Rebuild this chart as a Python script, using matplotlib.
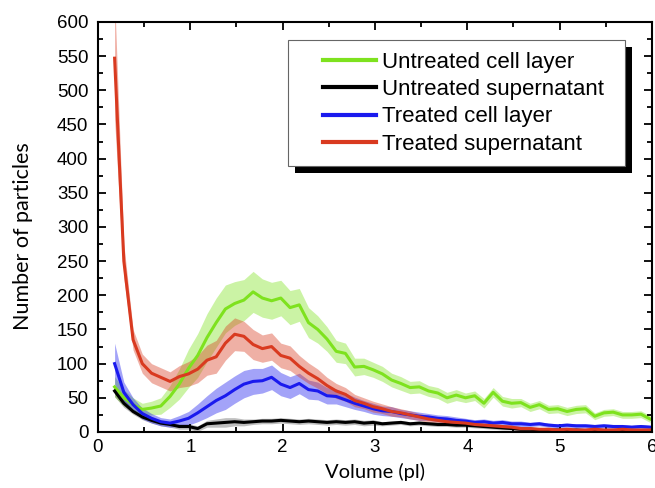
import matplotlib

matplotlib.use("Agg")
import matplotlib.pyplot as plt  # noqa: E402
import numpy as np  # noqa: E402
from matplotlib.patches import Rectangle  # noqa: E402

# volume bins (pl)
VOLUME = [0.18, 0.28, 0.38, 0.48, 0.58, 0.68, 0.78, 0.88, 0.98, 1.08,
          1.18, 1.28, 1.38, 1.48, 1.58, 1.68, 1.78, 1.88, 1.98, 2.08,
          2.18, 2.28, 2.38, 2.48, 2.58, 2.68, 2.78, 2.88, 2.98, 3.08,
          3.18, 3.28, 3.38, 3.48, 3.58, 3.68, 3.78, 3.88, 3.98, 4.08,
          4.18, 4.28, 4.38, 4.48, 4.58, 4.68, 4.78, 4.88, 4.98, 5.08,
          5.18, 5.28, 5.38, 5.48, 5.58, 5.68, 5.78, 5.88, 5.98]

UNTREATED_CELL = [66, 50, 40, 33, 35, 38, 52, 70, 93, 112,
                  138, 160, 180, 188, 193, 205, 196, 192, 196, 182,
                  186, 160, 150, 136, 118, 115, 95, 96, 91, 85,
                  76, 71, 65, 66, 60, 57, 50, 54, 50, 53,
                  42, 58, 45, 42, 43, 36, 40, 33, 34, 30,
                  33, 34, 23, 28, 29, 25, 25, 26, 19]
UNTREATED_CELL_ERR = [15, 12, 10, 9, 10, 12, 16, 22, 28, 32,
                      35, 36, 35, 32, 30, 30, 28, 27, 26, 25,
                      24, 22, 20, 18, 16, 15, 13, 12, 11, 11,
                      10, 10, 9, 9, 8, 8, 8, 8, 7, 7,
                      7, 7, 7, 7, 6, 6, 6, 6, 6, 6,
                      6, 6, 5, 5, 5, 5, 5, 5, 5]

UNTREATED_SUP = [60, 42, 30, 22, 17, 13, 11, 8, 8, 5,
                 12, 13, 14, 15, 14, 15, 16, 16, 17, 16,
                 15, 16, 15, 14, 15, 14, 15, 13, 14, 12,
                 13, 14, 12, 13, 12, 11, 11, 10, 10, 9,
                 8, 7, 6, 5, 4, 4, 3, 3, 3, 2,
                 3, 2, 2, 2, 2, 2, 2, 2, 2]
UNTREATED_SUP_ERR = [8, 6, 4, 4, 4, 4, 4, 4, 4, 4,
                     5, 6, 7, 6, 5, 4, 4, 4, 4, 4,
                     4, 4, 4, 4, 4, 4, 4, 4, 4, 3,
                     3, 3, 3, 3, 3, 3, 3, 3, 3, 3,
                     3, 3, 3, 2, 2, 2, 2, 2, 2, 2,
                     2, 2, 2, 2, 2, 2, 2, 2, 2]

TREATED_CELL = [100, 58, 40, 27, 20, 15, 13, 16, 20, 28,
                37, 46, 53, 62, 70, 74, 75, 80, 70, 65,
                71, 62, 60, 53, 52, 47, 42, 38, 34, 31,
                30, 27, 25, 23, 22, 20, 19, 17, 16, 14,
                15, 13, 14, 12, 12, 11, 12, 10, 9, 10,
                9, 9, 8, 9, 8, 8, 7, 8, 7]
TREATED_CELL_ERR = [30, 15, 10, 8, 7, 6, 6, 8, 10, 13,
                    16, 18, 20, 20, 20, 19, 18, 18, 17, 16,
                    15, 14, 13, 12, 11, 10, 9, 8, 8, 7,
                    7, 6, 6, 6, 5, 5, 5, 5, 4, 4,
                    4, 4, 4, 4, 4, 3, 3, 3, 3, 3,
                    3, 3, 3, 3, 3, 3, 3, 3, 3]

TREATED_SUP = [547, 250, 135, 100, 86, 80, 74, 81, 85, 92,
               105, 110, 130, 143, 140, 128, 122, 125, 112, 108,
               96, 86, 78, 68, 60, 55, 46, 42, 37, 34,
               30, 28, 25, 22, 19, 17, 15, 14, 13, 11,
               10, 9, 8, 7, 5, 5, 4, 4, 3, 4,
               3, 3, 4, 3, 3, 4, 3, 3, 3]
TREATED_SUP_ERR = [90, 25, 15, 14, 14, 14, 14, 16, 18, 20,
                   22, 24, 25, 24, 22, 22, 20, 20, 18, 18,
                   16, 15, 14, 12, 11, 10, 9, 8, 8, 7,
                   7, 6, 6, 5, 5, 5, 4, 4, 4, 3,
                   3, 3, 3, 3, 3, 3, 2, 2, 2, 2,
                   2, 2, 2, 2, 2, 2, 2, 2, 2]

SERIES = [
    ("Untreated cell layer", UNTREATED_CELL, UNTREATED_CELL_ERR, "#7EE21E"),
    ("Untreated supernatant", UNTREATED_SUP, UNTREATED_SUP_ERR, "#000000"),
    ("Treated cell layer", TREATED_CELL, TREATED_CELL_ERR, "#1A1AEE"),
    ("Treated supernatant", TREATED_SUP, TREATED_SUP_ERR, "#D93A20"),
]

plt.rcParams["font.family"] = ["Liberation Sans", "DejaVu Sans"]
plt.rcParams["xtick.labelsize"] = 13.5
plt.rcParams["ytick.labelsize"] = 13.5
LABEL_FONT = ["Lato", "DejaVu Sans"]

fig = plt.figure(figsize=(6.55, 4.88), dpi=100)
ax = fig.add_axes([0.1496, 0.1148, 0.8458, 0.8402])

x = np.array(VOLUME)
for label, mean, err, color in SERIES:
    m = np.array(mean, dtype=float)
    e = np.array(err, dtype=float)
    band_alpha = 0.25 if color == "#000000" else 0.4
    ax.fill_between(x, m - e, m + e, color=color, alpha=band_alpha, lw=0)
    ax.plot(x, m, color=color, lw=2.2, label=label)

ax.set_xlim(0, 6)
ax.set_ylim(0, 600)
ax.set_xticks(np.arange(0, 7, 1))
ax.set_xticks(np.arange(0, 6.01, 0.5), minor=True)
ax.set_yticks(np.arange(0, 601, 50))
ax.set_yticks(np.arange(0, 601, 25), minor=True)
ax.tick_params(which="both", direction="in", top=True, right=True, width=1.3)
ax.tick_params(which="major", length=6)
ax.tick_params(axis="y", which="major", pad=7)
ax.tick_params(axis="x", which="major", pad=5)
ax.tick_params(which="minor", length=3.5)
for sp in ax.spines.values():
    sp.set_linewidth(1.5)

ax.set_xlabel("Volume (pl)", family=LABEL_FONT, fontsize=14.5, labelpad=5)
ax.set_ylabel("Number of particles", family=LABEL_FONT, fontsize=15.5)
ax.yaxis.set_label_coords(-0.117, 0.478)

# legend box with a hard black drop shadow
box_x0, box_y0, box_w, box_h = 0.343, 0.649, 0.608, 0.307
ax.add_patch(Rectangle((box_x0 + 0.013, box_y0 - 0.017), box_w, box_h,
                       transform=ax.transAxes, facecolor="black",
                       edgecolor="none", zorder=4))
ax.add_patch(Rectangle((box_x0, box_y0), box_w, box_h, transform=ax.transAxes,
                       facecolor="white", edgecolor="#666666", lw=0.8, zorder=4.5))
leg = ax.legend(loc="upper left", bbox_to_anchor=(0.406, 0.927), frameon=False,
                borderpad=0, borderaxespad=0, handlelength=2.4, handletextpad=0.25,
                labelspacing=0.28, prop={"size": 16})
leg.set_zorder(5)
for h in leg.legend_handles:
    h.set_linewidth(3)

fig.savefig("out.png", dpi=100)
